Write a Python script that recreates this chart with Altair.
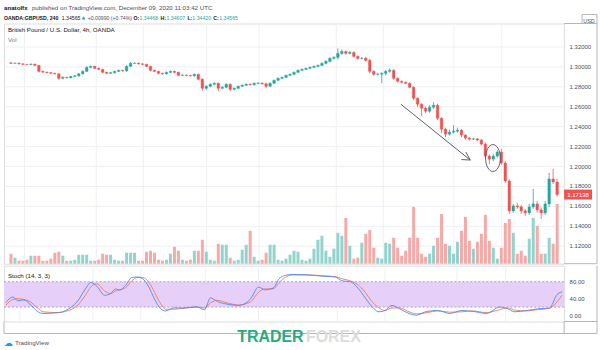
import altair as alt
import pandas as pd

# ---------------- data ----------------
closes = [
    1.3030, 1.3032, 1.3025, 1.3020, 1.3018, 1.3022, 1.3010, 1.2950, 1.2942, 1.2937,
    1.2930, 1.2925, 1.2880, 1.2890, 1.2885, 1.2898, 1.2905, 1.2925, 1.2950, 1.2990,
    1.3000, 1.2980, 1.2970, 1.2940, 1.2930, 1.2936, 1.2950, 1.2960, 1.2955, 1.3000,
    1.3030, 1.3032, 1.3025, 1.3020, 1.3000, 1.2960, 1.2950, 1.2930, 1.2925, 1.2940,
    1.2950, 1.2940, 1.2910, 1.2912, 1.2908, 1.2905, 1.2920, 1.2870, 1.2780, 1.2800,
    1.2820, 1.2830, 1.2780, 1.2790, 1.2820, 1.2770, 1.2780, 1.2800, 1.2810, 1.2820,
    1.2815, 1.2830, 1.2832, 1.2825, 1.2800, 1.2830, 1.2860, 1.2880, 1.2890, 1.2910,
    1.2920, 1.2940, 1.2960, 1.2970, 1.2980, 1.2990, 1.3000, 1.3010, 1.3030, 1.3050,
    1.3080, 1.3090, 1.3130, 1.3150, 1.3130, 1.3140, 1.3100, 1.3080, 1.3082, 1.3060,
    1.2950, 1.2920, 1.2922, 1.2930, 1.2950, 1.2960, 1.2880, 1.2850, 1.2840, 1.2830,
    1.2790, 1.2680, 1.2620, 1.2580, 1.2550, 1.2590, 1.2610, 1.2480, 1.2370, 1.2320,
    1.2340, 1.2350, 1.2360, 1.2310, 1.2280, 1.2270, 1.2272, 1.2260, 1.2220, 1.2100,
    1.2070, 1.2100, 1.2140, 1.2030, 1.1850, 1.1550, 1.1600, 1.1590, 1.1550, 1.1530,
    1.1590, 1.1620, 1.1560, 1.1530, 1.1620, 1.1870, 1.1840, 1.1714,
]
first_open = 1.3035
last_price = 1.17138

# wick lengths beyond the body, in pips
up_wick = [
    8, 6, 6, 8, 5, 8, 6, 5, 6, 5,
    6, 6, 8, 10, 6, 6, 8, 8, 10, 10,
    8, 6, 8, 6, 6, 8, 8, 6, 6, 12,
    15, 8, 6, 6, 6, 8, 6, 6, 6, 8,
    8, 6, 6, 8, 6, 6, 8, 8, 10, 10,
    10, 12, 8, 10, 12, 8, 8, 8, 8, 10,
    8, 10, 8, 8, 10, 10, 8, 10, 8, 8,
    8, 8, 10, 8, 8, 8, 10, 8, 10, 12,
    15, 12, 50, 20, 10, 15, 10, 10, 10, 12,
    15, 10, 12, 10, 15, 20, 12, 10, 8, 8,
    10, 10, 10, 10, 15, 20, 30, 15, 10, 15,
    25, 60, 25, 12, 10, 10, 10, 10, 12, 15,
    15, 20, 20, 30, 20, 15, 20, 25, 20, 20,
    30, 150, 30, 25, 30, 60, 100, 30,
]
down_wick = [
    6, 8, 6, 6, 8, 6, 8, 12, 6, 8,
    6, 8, 15, 8, 8, 8, 6, 8, 6, 8,
    8, 8, 8, 10, 8, 6, 8, 8, 8, 10,
    8, 6, 6, 8, 8, 10, 8, 10, 8, 8,
    8, 8, 10, 8, 8, 8, 8, 12, 25, 15,
    10, 10, 30, 10, 10, 20, 10, 10, 8, 8,
    8, 8, 8, 8, 20, 10, 8, 8, 8, 8,
    8, 8, 8, 8, 8, 8, 8, 8, 8, 10,
    10, 10, 20, 15, 15, 10, 12, 15, 12, 15,
    20, 15, 10, 90, 20, 15, 15, 12, 10, 10,
    12, 20, 30, 80, 20, 15, 15, 20, 40, 30,
    15, 15, 15, 20, 15, 12, 10, 12, 15, 25,
    50, 20, 15, 15, 20, 30, 20, 20, 30, 30,
    20, 20, 30, 60, 20, 30, 20, 20,
]
volumes = [
    10, 6, 3, 3, 4, 8, 8, 8, 3, 3,
    5, 11, 12, 8, 3, 3, 4, 9, 9, 9,
    3, 3, 4, 10, 9, 9, 4, 3, 3, 11,
    11, 11, 3, 3, 12, 13, 11, 4, 3, 4,
    10, 17, 13, 4, 3, 4, 13, 13, 24, 12,
    4, 3, 20, 19, 19, 6, 3, 4, 14, 19,
    33, 7, 3, 4, 11, 19, 19, 4, 3, 5,
    9, 13, 12, 4, 3, 5, 15, 24, 28, 13,
    7, 15, 31, 28, 46, 18, 5, 6, 21, 30,
    34, 16, 6, 5, 21, 20, 26, 16, 8, 13,
    26, 57, 26, 10, 7, 10, 18, 26, 50, 20,
    18, 10, 22, 33, 47, 23, 15, 22, 30, 49,
    23, 16, 5, 16, 41, 45, 31, 10, 13, 8,
    25, 46, 38, 10, 10, 26, 20, 60,
]

stoch_pos = [0, 1.7, 2.9, 4.4, 5.9, 7.9, 9.1, 13, 14.7, 17.7, 19.7, 20.9, 22.4, 24.3,
             25.8, 27, 28, 29.5, 31, 32.4, 33.7, 35.1, 36.6, 38.1, 39.3, 41.3, 44.2,
             46.9, 48.9, 50.4, 52.1, 54.5, 57.2, 60.2, 62.2, 63.9, 65.8, 67.3, 68.8,
             70.5, 74.4, 78.1, 81.1, 82.8, 84.8, 86.7, 88.5, 89.9, 91.9, 93.4, 95.1,
             97, 99, 101.2, 103.7, 106.4, 109.3, 112.3, 115, 118.4, 121.6, 123.6,
             125.3, 128.3, 131, 133.9, 135.8, 137]
stoch_k = [31, 44, 35, 37, 27, 9, 5, 7, 12, 35, 65, 78, 69, 48,
           52, 63, 60, 72, 90, 91, 87, 69, 39, 16, 11, 18, 18,
           21, 14, 42, 33, 27, 24, 39, 67, 61, 65, 87, 95,
           97, 96, 93, 91, 82, 80, 65, 42, 24, 9, 12, 24,
           16, 6, 1, 10, 12, 5, 12, 10, 5, 20, 16,
           9, 12, 16, 18, 50, 56]
stoch_d = [25, 38, 40, 38, 33, 17, 9, 7, 10, 25, 50, 68, 75, 58,
           52, 58, 61, 66, 82, 90, 90, 80, 55, 28, 15, 15, 18,
           20, 18, 30, 36, 30, 25, 32, 55, 63, 63, 78, 90,
           96, 96, 94, 92, 87, 82, 73, 55, 36, 18, 12, 18,
           18, 10, 4, 7, 11, 8, 9, 11, 7, 14, 18,
           13, 11, 14, 17, 33, 48]
stoch_levels = [20, 80]

price_ticks = [1.12, 1.14, 1.16, 1.18, 1.20, 1.22, 1.24, 1.26, 1.28, 1.30, 1.32]
stoch_ticks = [0, 40, 80]
time_pos = [3.4, 21.4, 33.2, 49.1, 62.2, 81.6, 93.4, 111.1, 123.1]
time_labels = ["19", "24", "26", "Mar", "4", "9", "11", "16", "18"]

# drawings, in (candle index, price)
arrow_i = [97.8, 114.1, 113.0]
arrow_p = [1.262, 1.214, 1.2065]
arrow_tip_i = 115.2
arrow_tip_p = 1.206
ellipse_i = [120.9]
ellipse_p = [1.208]

# ---------------- layout / style ----------------
W, H_MAIN, H_STOCH = 562, 241, 56
FONT = "Liberation Sans"
TXT = "#131722"
GREY = "#4a4e59"
FRAME = "#b2b5be"
GRID = "#eef0f5"
UP, DOWN = "#26a69a", "#ef5350"
VUP, VDOWN = "#93d3cd", "#f6a9a7"

n = len(closes)
opens = [first_open] + closes[:-1]
df = pd.DataFrame({"i": list(range(n)), "open": opens, "close": closes,
                   "up": up_wick, "down": down_wick, "vol": volumes})
df["high"] = df[["open", "close"]].max(axis=1) + df["up"] / 10000
df["low"] = df[["open", "close"]].min(axis=1) - df["down"] / 10000
df["dir"] = ["up" if c >= o else "down" for o, c in zip(df["open"], df["close"])]
df["vdir"] = df["dir"]

XS = alt.Scale(domain=[-0.5, n - 0.5], nice=False, zero=False)
PS = alt.Scale(domain=[1.102, 1.343], nice=False, zero=False)
SS = alt.Scale(domain=[-14, 117.8], nice=False, zero=False)

price_axis = alt.Axis(orient="right", values=price_ticks, format=".5f", grid=True,
                      gridColor=GRID, ticks=False, domain=False, title=None,
                      labelFontSize=6, labelColor=GREY, labelPadding=5, labelFont=FONT)
stoch_axis = alt.Axis(orient="right", values=stoch_ticks, format=".2f", grid=False,
                      ticks=False, domain=False, title=None, labelFontSize=6,
                      labelColor=GREY, labelPadding=5, labelFont=FONT)
label_expr = " : ".join(f"datum.value == {p} ? '{l}'" for p, l in zip(time_pos, time_labels)) + " : ''"
time_axis = alt.Axis(values=time_pos, labelExpr=label_expr, grid=False, ticks=False,
                     domain=False, title=None, labelFontSize=6, labelColor=GREY,
                     labelPadding=4, labelFont=FONT, labelFlush=False,
                     labelFontWeight={"condition": {"test": "datum.value == 49.1", "value": "bold"},
                                      "value": "normal"})

one = pd.DataFrame({"k": [0]})
tdf = pd.DataFrame({"t": time_pos})


def rule(x, x2, y, y2, color=FRAME, w=1):
    return alt.Chart(one).mark_rule(color=color, strokeWidth=w).encode(
        x=alt.value(x), x2=alt.value(x2), y=alt.value(y), y2=alt.value(y2))


def label(text, x, y, size=6.2, color=TXT, weight="normal", font=FONT, align="left"):
    return alt.Chart(one).mark_text(text=text, x=x, y=y, fontSize=size, color=color,
                                    fontWeight=weight, font=font, align=align, baseline="middle")


anchor = alt.Chart(one).mark_rect(opacity=0).encode(
    x=alt.value(-3), x2=alt.value(597), y=alt.value(-22), y2=alt.value(-21))
anchor2 = alt.Chart(one).mark_rect(opacity=0).encode(
    x=alt.value(-3), x2=alt.value(597), y=alt.value(20), y2=alt.value(21))

vgrid = alt.Chart(tdf).mark_rule(color=GRID, strokeWidth=1).encode(x=alt.X("t:Q", scale=XS, axis=None))

# ---------------- main panel ----------------
vol = alt.Chart(df).mark_bar(size=3).encode(
    x=alt.X("i:Q", scale=XS, axis=None),
    y=alt.Y("vol:Q", scale=alt.Scale(domain=[0, H_MAIN], nice=False), axis=None),
    color=alt.Color("vdir:N", scale=alt.Scale(domain=["up", "down"], range=[VUP, VDOWN]), legend=None),
)

cscale = alt.Scale(domain=["up", "down"], range=[UP, DOWN])
wicks = alt.Chart(df).mark_rule(strokeWidth=0.8).encode(
    x=alt.X("i:Q", scale=XS, axis=None),
    y=alt.Y("low:Q", scale=PS, axis=price_axis), y2="high:Q",
    color=alt.Color("dir:N", scale=cscale, legend=None),
)
bodies = alt.Chart(df).mark_bar(size=2.6, strokeWidth=0.4).encode(
    x=alt.X("i:Q", scale=XS, axis=None),
    y=alt.Y("open:Q", scale=PS, axis=price_axis), y2="close:Q",
    color=alt.Color("dir:N", scale=cscale, legend=None),
    stroke=alt.Color("dir:N", scale=cscale, legend=None),
)

adf = pd.DataFrame({"i": arrow_i, "p": arrow_p, "ti": [arrow_tip_i] * 3, "tp": [arrow_tip_p] * 3})
arrow = alt.Chart(adf).mark_rule(color="#5d606b", strokeWidth=1).encode(
    x=alt.X("i:Q", scale=XS, axis=None), x2="ti:Q",
    y=alt.Y("p:Q", scale=PS, axis=price_axis), y2="tp:Q")

edf = pd.DataFrame({"i": ellipse_i, "p": ellipse_p})
ellipse = alt.Chart(edf).mark_point(
    shape="M -0.55 0 A 0.55 1 0 1 0 0.55 0 A 0.55 1 0 1 0 -0.55 0 Z",
    size=729, filled=False, color="#5d606b", strokeWidth=1, opacity=1).encode(
    x=alt.X("i:Q", scale=XS, axis=None), y=alt.Y("p:Q", scale=PS, axis=price_axis))

ldf = pd.DataFrame({"p": [last_price], "lo": [last_price - 0.005], "hi": [last_price + 0.005],
                    "txt": [f"{last_price:.5f}"]})
last_box = alt.Chart(ldf).mark_rect(color=DOWN).encode(
    x=alt.value(W), x2=alt.value(W + 28),
    y=alt.Y("lo:Q", scale=PS, axis=price_axis), y2="hi:Q")
last_txt = alt.Chart(ldf).mark_text(color="white", fontSize=6, font=FONT, align="center").encode(
    x=alt.value(W + 14), y=alt.Y("p:Q", scale=PS, axis=price_axis), text="txt:N")

HS = 5.2
header = [
    label("anatolfx", 0, -16, weight="bold"),
    label("published on TradingView.com, December 09, 2020 11:03:42 UTC", 28, -16, color=GREY),
    label("OANDA:GBPUSD, 240", 0, -6, weight="bold", size=HS),
    label("1.34565", 58, -6, size=HS),
    label("▲", 78, -6, color=UP, size=4.5, font="DejaVu Sans"),
    label("+0.00990 (+0.74%)", 84, -6, color=GREY, size=HS),
    label("O:", 130, -6, weight="bold", size=HS), label("1.34468", 136, -6, color=UP, size=HS),
    label("H:", 157, -6, weight="bold", size=HS), label("1.34607", 163, -6, color=UP, size=HS),
    label("L:", 184, -6, weight="bold", size=HS), label("1.34420", 189, -6, color=UP, size=HS),
    label("C:", 210, -6, weight="bold", size=HS), label("1.34565", 216, -6, color=UP, size=HS),
    label("British Pound / U.S. Dollar, 4h, OANDA", 4, 7, size=6.2),
    label("Vol", 4, 17, color="#787b86"),
    label("USD", 587, -3, size=5.5, color=GREY, align="center"),
]

price_layer = alt.layer(wicks, bodies, arrow, ellipse, last_box, last_txt)
main = alt.layer(
    anchor, vgrid, vol, price_layer,
    rule(W, 595, 0, 0), rule(595, 595, 0, H_MAIN), rule(W, 595, H_MAIN, H_MAIN),
    rule(580, 595, -9, -9), rule(580, 580, -9, 0), rule(595, 595, -9, 0),
    *header,
).resolve_scale(y="independent", color="independent", stroke="independent").properties(
    width=W, height=H_MAIN)

# ---------------- stochastic panel ----------------
band = alt.Chart(pd.DataFrame({"lo": [stoch_levels[0]], "hi": [stoch_levels[1]]})).mark_rect(
    color="#e6d0fa").encode(x=alt.value(0), x2=alt.value(W),
                            y=alt.Y("lo:Q", scale=SS, axis=stoch_axis), y2="hi:Q")
dashes = alt.Chart(pd.DataFrame({"lvl": stoch_levels})).mark_rule(
    color="#9598a1", strokeDash=[2, 2], strokeWidth=0.8).encode(
    x=alt.value(0), x2=alt.value(W), y=alt.Y("lvl:Q", scale=SS, axis=stoch_axis))
sdf = pd.concat([
    pd.DataFrame({"pos": stoch_pos, "v": stoch_d, "s": "%D"}),
    pd.DataFrame({"pos": stoch_pos, "v": stoch_k, "s": "%K"}),
])
lines = alt.Chart(sdf).mark_line(strokeWidth=0.9, interpolate="monotone").encode(
    x=alt.X("pos:Q", scale=XS, axis=time_axis),
    y=alt.Y("v:Q", scale=SS, axis=stoch_axis),
    color=alt.Color("s:N", scale=alt.Scale(domain=["%K", "%D"], range=["#4a8af4", "#f4794e"]), legend=None),
    detail="s:N",
)
stoch = alt.layer(
    anchor2, vgrid, band, dashes, lines,
    label("Stoch (14, 3, 3)", 4, 10, size=6.2),
    rule(595, 595, 0, H_STOCH + 12), rule(W, 595, H_STOCH, H_STOCH),
    rule(0, 595, H_STOCH + 12, H_STOCH + 12), rule(0, 0, H_STOCH, H_STOCH + 12),
    rule(W, W, H_STOCH, H_STOCH + 12),
    label("☁", 0, 78, size=9, color="#2196f3", font="DejaVu Sans"),
    label("TradingView", 11, 78, size=6.2, color=GREY),
    label("TRADER", 234, 72, size=16, color="#2aa97e", weight="bold"),
    label("FOREX", 303, 72, size=16, color="#dcdcdc", weight="bold"),
).properties(width=W, height=H_STOCH)

chart = alt.vconcat(main, stoch, spacing=0).properties(
    padding=0, background="white"
).configure_view(stroke=FRAME, strokeWidth=1).configure(font=FONT)

chart.save("out.html", embed_options={"renderer": "svg", "actions": False})
